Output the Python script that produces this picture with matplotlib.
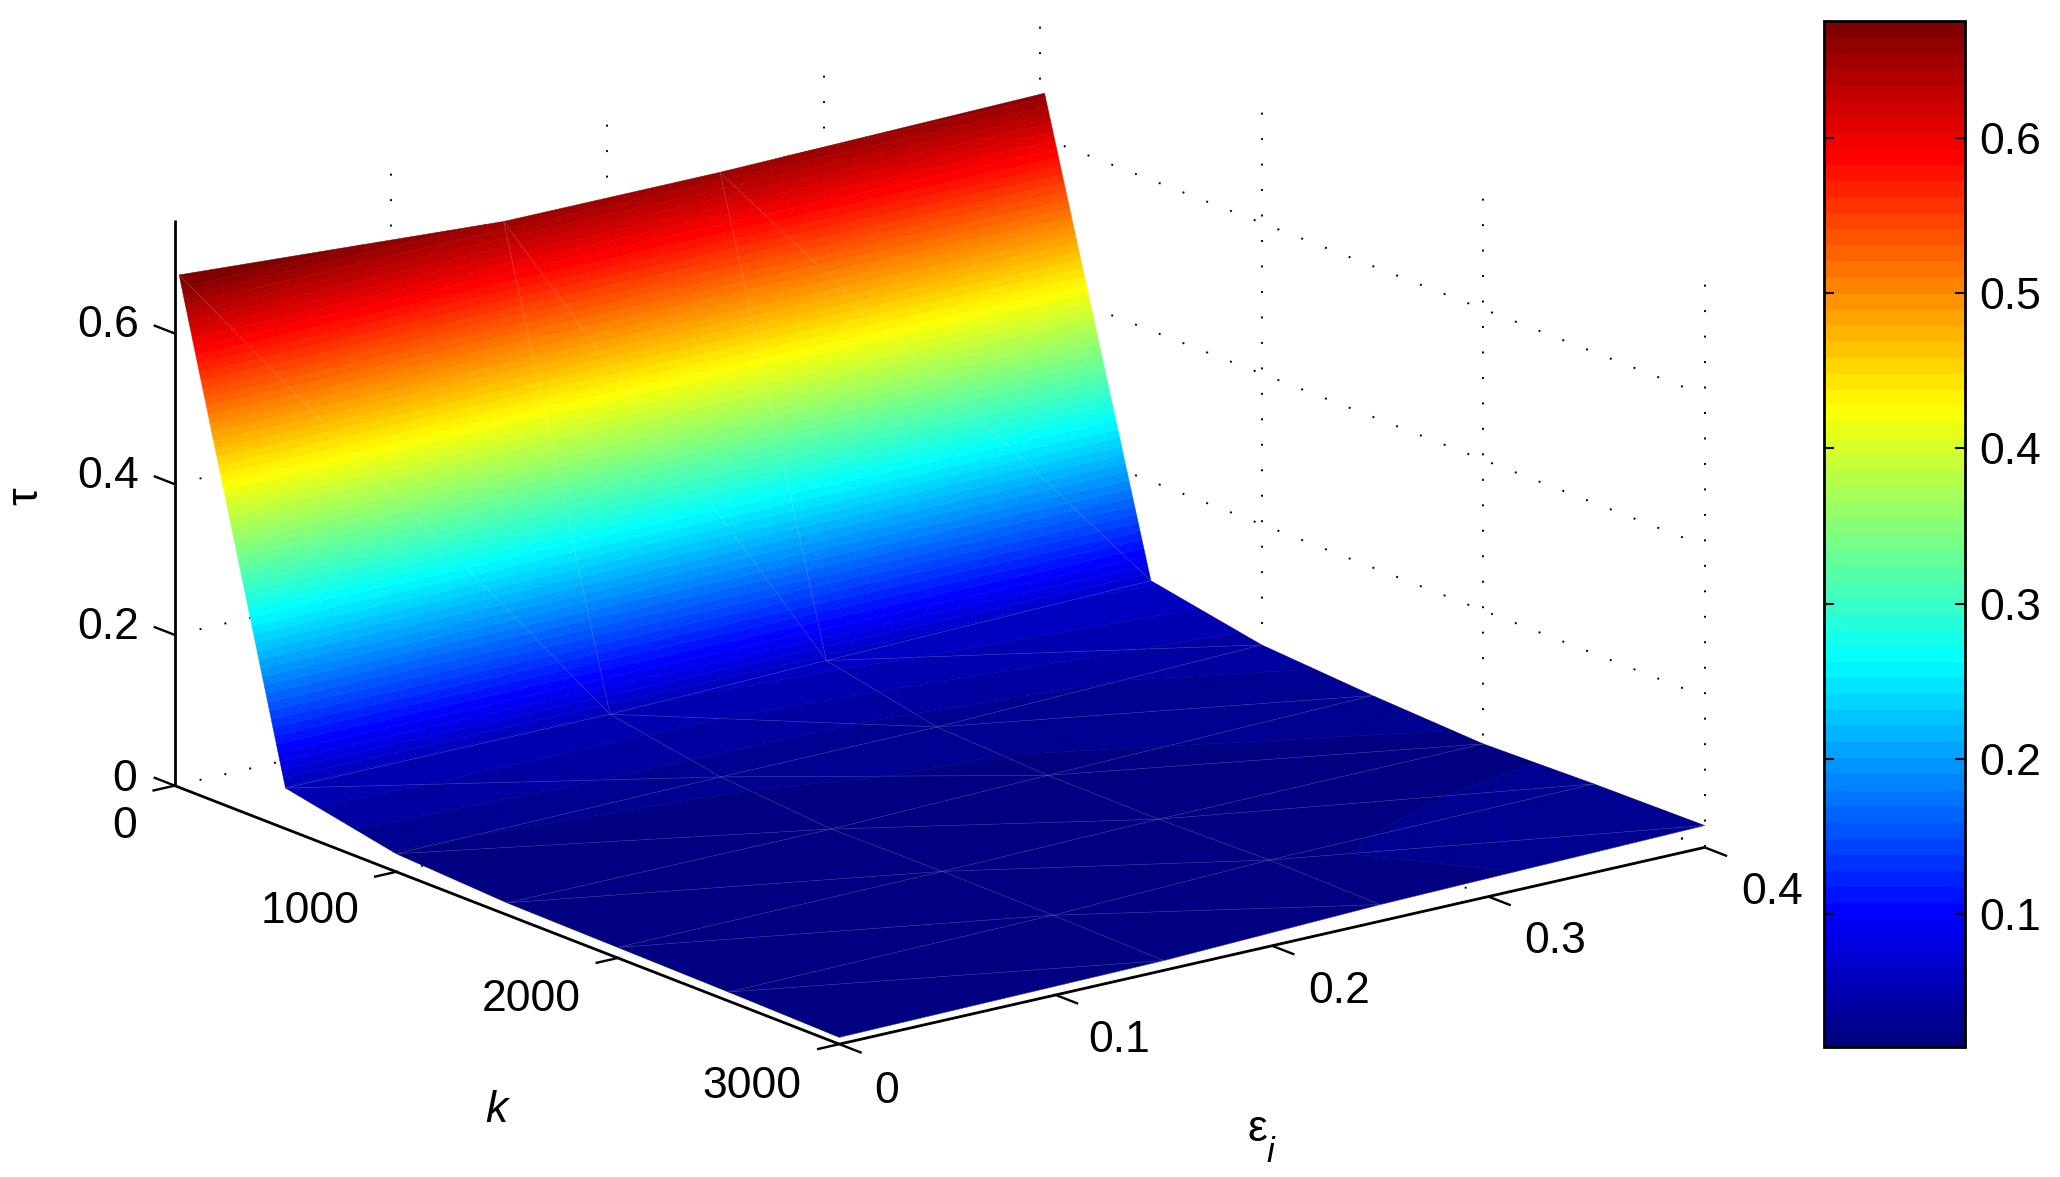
import numpy as np
import matplotlib
matplotlib.use("Agg")
import matplotlib.pyplot as plt
from matplotlib.colors import LinearSegmentedColormap, Normalize
from matplotlib.cm import ScalarMappable
from mpl_toolkits.mplot3d import proj3d
from mpl_toolkits.mplot3d.art3d import Poly3DCollection

plt.rcParams['font.family'] = ['Liberation Sans', 'DejaVu Sans']

# ---- data ----
k_values = [20, 500, 1000, 1500, 2000, 2500, 3000]
eps_values = [0.0, 0.15, 0.25, 0.4]
tau_k20 = [0.680, 0.653, 0.653, 0.660]
tau_k500 = [0.054, 0.054, 0.060, 0.068]
tau_k1000 = [0.024, 0.028, 0.029, 0.040]
tau_k1500 = [0.016, 0.016, 0.022, 0.030]
tau_k2000 = [0.014, 0.017, 0.021, 0.023]
tau_k2500 = [0.012, 0.016, 0.024, 0.027]
tau_k3000 = [0.009, 0.013, 0.022, 0.029]
k_ticks = [0, 1000, 2000, 3000]
eps_ticks = [0, 0.1, 0.2, 0.3, 0.4]
z_ticks = [0, 0.2, 0.4, 0.6]
cbar_ticks = [0.1, 0.2, 0.3, 0.4, 0.5, 0.6]
tau_min, tau_max = 0.0146, 0.675
z_top = 0.75
grid_top = 0.75

K = np.array(k_values, float)
E = np.array(eps_values, float)
T = np.array([tau_k20, tau_k500, tau_k1000, tau_k1500, tau_k2000, tau_k2500, tau_k3000])

W, H = 2060, 1177
S = 2060 / 1568          # reference layout is measured on a 1568-wide view
def fx(x): return x * S / W
def fy(y): return 1 - y * S / H

# MATLAB jet, 64 levels
jet = LinearSegmentedColormap('mjet', {
    'red':   [(0, 0, 0), (3/8, 0, 0), (5/8, 1, 1), (7/8, 1, 1), (1, .5, .5)],
    'green': [(0, 0, 0), (1/8, 0, 0), (3/8, 1, 1), (5/8, 1, 1), (7/8, 0, 0), (1, 0, 0)],
    'blue':  [(0, .5, .5), (1/8, 1, 1), (3/8, 1, 1), (5/8, 0, 0), (1, 0, 0)],
}, N=64)
norm = Normalize(tau_min, tau_max)

fig = plt.figure(figsize=(W / 100, H / 100), dpi=100, facecolor='white')
ax = fig.add_axes([0, -0.375, 1, W / H], projection='3d', proj_type='ortho')
ax.set_axis_off()
ax.computed_zorder = False
ax.view_init(elev=17.3, azim=-37.4)
ax.set_xlim(0, 3000)
ax.set_ylim(0, 0.4)
ax.set_zlim(0, z_top)
ax.set_autoscale_on(False)
BOX = (1, 0.9955, 0.541)
zoom = 1.0
ax.set_box_aspect(BOX, zoom=zoom)


def px(x, y, z):
    X, Y, _ = proj3d.proj_transform(x, y, z, ax.get_proj())
    return ax.transData.transform((float(X), float(Y)))


# place the box: corner k=0/eps=0 and k=3000/eps=0 on their reference spots
target0 = np.array([133 * S, H - 598 * S])
target1 = np.array([638 * S, H - 797 * S])
for _ in range(4):
    ax.apply_aspect()
    p0, p1 = px(0, 0, 0), px(3000, 0, 0)
    zoom *= np.linalg.norm(target1 - target0) / np.linalg.norm(p1 - p0)
    ax.set_box_aspect(BOX, zoom=zoom)
    ax.apply_aspect()
    d = target0 - px(0, 0, 0)
    b = ax.get_position(original=True)
    ax.set_position([b.x0 + d[0] / W, b.y0 + d[1] / H, b.width, b.height])
    ax.apply_aspect()


def clip_band(tri, lo, hi):
    """Part of a flat triangle with lo <= z <= hi."""
    def clip(poly, f):
        out = []
        for a, b in zip(poly, poly[1:] + poly[:1]):
            fa, fb = f(a), f(b)
            if fa >= 0:
                out.append(a)
            if fa * fb < 0:
                out.append(a + (b - a) * fa / (fa - fb))
        return out
    poly = clip(list(tri), lambda p: p[2] - lo)
    if poly:
        poly = clip(poly, lambda p: hi - p[2])
    return poly


# surface: every triangle of the mesh is cut along the 64 colour levels
edges = np.linspace(tau_min, tau_max, 65)
edges_ext = edges.copy()
edges_ext[0], edges_ext[-1] = -1, 2
polys, cols = [], []
for i in range(len(K) - 1):
    for j in range(len(E) - 1):
        a = np.array([K[i], E[j], T[i, j]])
        b = np.array([K[i + 1], E[j], T[i + 1, j]])
        c = np.array([K[i + 1], E[j + 1], T[i + 1, j + 1]])
        d_ = np.array([K[i], E[j + 1], T[i, j + 1]])
        for tri in ((a, b, c), (a, c, d_)):
            for n in range(64):
                p = clip_band(tri, edges_ext[n], edges_ext[n + 1])
                if len(p) >= 3:
                    polys.append(np.array(p))
                    cols.append(jet(n))

# back-wall dotted grid
dots = dict(color='black', lw=1.4, ls=(0, (1, 12.1)), zorder=1, clip_on=False)
for e in eps_ticks[1:]:
    ax.plot([0, 0], [e, e], [0, grid_top], **dots)
    ax.plot([0, 3000], [e, e], [0, 0], **dots)
for k_ in k_ticks[1:]:
    ax.plot([k_, k_], [0.4, 0.4], [0, grid_top], **dots)
    ax.plot([k_, k_], [0, 0.4], [0, 0], **dots)
for z in z_ticks:
    ax.plot([0, 0], [0, 0.4], [z, z], **dots)
    ax.plot([0, 3000], [0.4, 0.4], [z, z], **dots)

surf = Poly3DCollection(polys, facecolors=cols, edgecolors=cols, linewidths=0.35,
                        zorder=2)
ax.add_collection3d(surf, autolim=False)

# faint mesh lines
mesh = dict(color='white', lw=0.5, alpha=0.18, zorder=3, clip_on=False)
for i in range(1, len(K)):
    ax.plot([K[i]] * len(E), E, T[i], **mesh)
for j in range(1, len(E) - 1):
    ax.plot(K, [E[j]] * len(K), T[:, j], **mesh)
for i in range(len(K) - 1):
    for j in range(len(E) - 1):
        ax.plot([K[i], K[i + 1]], [E[j], E[j + 1]], [T[i, j], T[i + 1, j + 1]], **mesh)

# axes and ticks
line = dict(color='black', lw=2.0, zorder=4, clip_on=False, solid_capstyle='butt')
ax.plot([0, 0], [0, 0], [0, z_top], **line)
ax.plot([0, 3000], [0, 0], [0, 0], **line)
ax.plot([3000, 3000], [0, 0.4], [0, 0], **line)
tick = dict(color='black', lw=1.7, zorder=4, clip_on=False, solid_capstyle='butt')
for z in z_ticks:
    ax.plot([0, -95], [0, 0], [z, z], **tick)
for k_ in k_ticks:
    ax.plot([k_, k_], [0, -0.0103], [0, 0], **tick)
for e in eps_ticks:
    ax.plot([3000, 3101], [e, e], [0, 0], **tick)

# tick labels and axis labels
fs = 32
txt = dict(fontsize=fs, ha='center', va='center', color='black')
for lab, (x, y) in {'0.6': (82, 248), '0.4': (82, 363), '0.2': (82, 478), '0': (95, 593)}.items():
    fig.text(fx(x), fy(y), lab, **txt)
for lab, (x, y) in {'0': (95, 629), '1000': (236, 694), '2000': (404, 761), '3000': (572, 827)}.items():
    fig.text(fx(x), fy(y), lab, **txt)
for lab, (x, y) in {'0': (675, 831), '0.1': (852, 792), '0.2': (1019, 755),
                    '0.3': (1184, 717), '0.4': (1349, 679)}.items():
    fig.text(fx(x), fy(y), lab, **txt)
fig.text(fx(378), fy(845), 'k', style='italic', **txt)
fig.text(fx(957), fy(860), 'ε', **txt)
fig.text(fx(967), fy(877), 'i', style='italic', fontsize=25, ha='center', va='center')
fig.text(fx(20), fy(378), 'τ', rotation=90, **txt)

# colour bar
cax = fig.add_axes([1824 / W, 1 - 1047 / H, (1965 - 1824) / W, (1047 - 21) / H])
cb = fig.colorbar(ScalarMappable(norm=norm, cmap=jet), cax=cax, ticks=cbar_ticks)
cb.ax.tick_params(direction='in', length=7, width=1.5, left=True, right=True,
                  labelsize=fs, pad=10)
cb.set_ticklabels(['0.1', '0.2', '0.3', '0.4', '0.5', '0.6'])
cb.outline.set_linewidth(2.0)

fig.savefig('out.png', dpi=100, facecolor='white')
